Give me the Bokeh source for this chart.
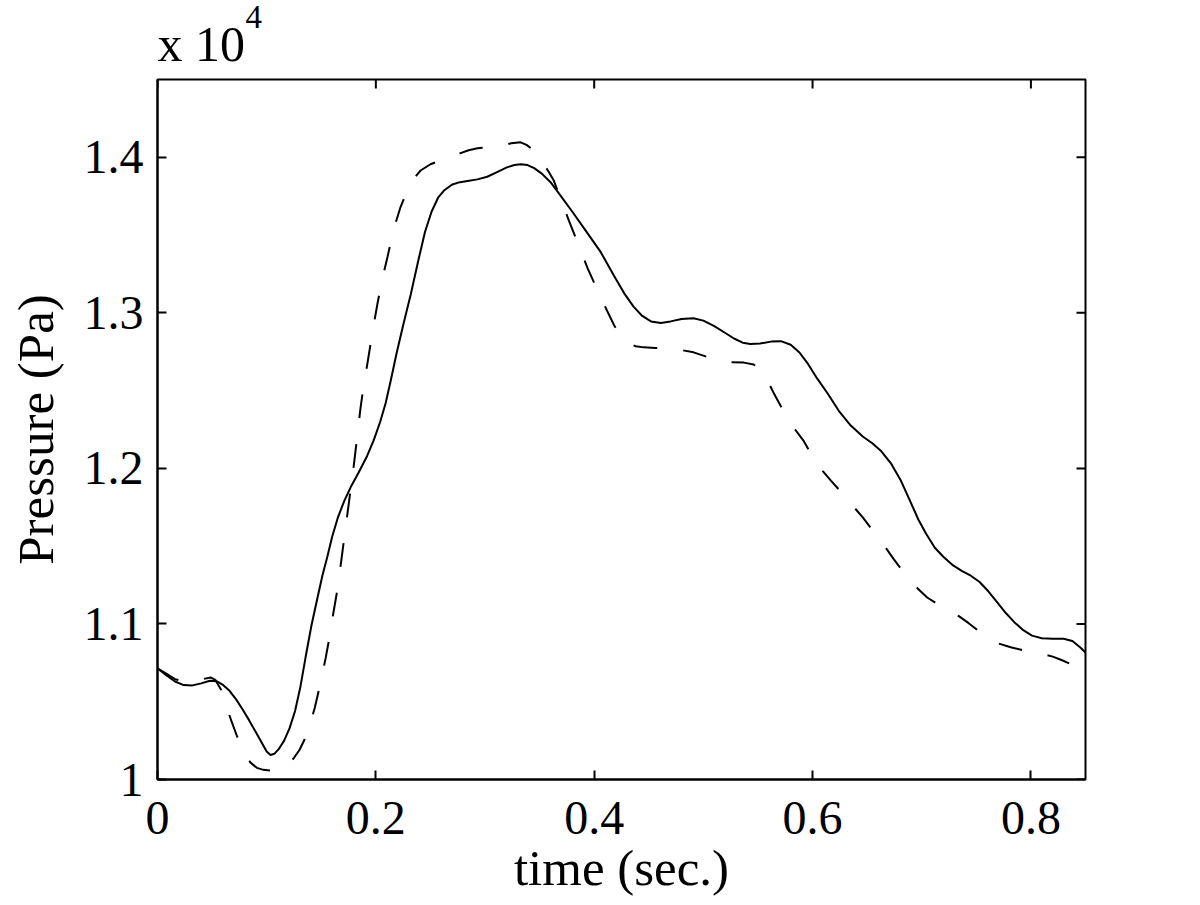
import math
from bokeh.plotting import figure
from bokeh.models import Range1d, FixedTicker, CustomJSTickFormatter, Title
from bokeh.embed import file_html
from bokeh.resources import INLINE

# time (sec.) and pressure (x 10^4 Pa)
t_solid = [0.000, 0.008, 0.016, 0.024, 0.032, 0.040, 0.048, 0.054, 0.060, 0.066,
           0.072, 0.078, 0.084, 0.090, 0.096, 0.100, 0.1035, 0.107, 0.111, 0.116,
           0.121, 0.126, 0.131, 0.136, 0.141, 0.1466, 0.151, 0.1555, 0.160, 0.165,
           0.171, 0.177, 0.184, 0.192, 0.198, 0.204, 0.209, 0.2135, 0.219, 0.225,
           0.232, 0.239, 0.245, 0.251, 0.257, 0.263, 0.270, 0.277, 0.284, 0.293,
           0.302, 0.311, 0.320, 0.327, 0.3326, 0.339, 0.345, 0.352, 0.360, 0.370,
           0.380, 0.393, 0.406, 0.418, 0.428, 0.436, 0.444, 0.452, 0.461, 0.470,
           0.480, 0.491, 0.500, 0.510, 0.519, 0.528, 0.536, 0.543, 0.552, 0.562,
           0.571, 0.580, 0.588, 0.596, 0.604, 0.614, 0.624, 0.635, 0.646, 0.655,
           0.663, 0.672, 0.681, 0.690, 0.697, 0.704, 0.712, 0.720, 0.728, 0.737,
           0.745, 0.753, 0.761, 0.769, 0.777, 0.785, 0.793, 0.801, 0.810, 0.820,
           0.830, 0.838, 0.845, 0.850]
p_solid = [1.0714, 1.0670, 1.0630, 1.0607, 1.0605, 1.0618, 1.0635, 1.0632, 1.0608, 1.0570,
           1.0515, 1.0450, 1.0380, 1.0305, 1.0230, 1.0180, 1.0158, 1.0165, 1.0195, 1.0250,
           1.0330, 1.0440, 1.0600, 1.0800, 1.0990, 1.1170, 1.1310, 1.1430, 1.1560, 1.1680,
           1.1790, 1.1880, 1.1970, 1.2080, 1.2180, 1.2300, 1.2420, 1.2560, 1.2740, 1.2920,
           1.3120, 1.3340, 1.3520, 1.3650, 1.3740, 1.3790, 1.3825, 1.3840, 1.3848, 1.3858,
           1.3875, 1.3905, 1.3935, 1.3950, 1.3955, 1.3950, 1.3930, 1.3895, 1.3840, 1.3745,
           1.3650, 1.3520, 1.3390, 1.3240, 1.3120, 1.3040, 1.2980, 1.2945, 1.2935, 1.2945,
           1.2960, 1.2965, 1.2950, 1.2915, 1.2875, 1.2835, 1.2808, 1.2800, 1.2803, 1.2815,
           1.2818, 1.2795, 1.2745, 1.2670, 1.2580, 1.2480, 1.2370, 1.2275, 1.2205, 1.2160,
           1.2110, 1.2030, 1.1920, 1.1780, 1.1670, 1.1580, 1.1490, 1.1430, 1.1380, 1.1340,
           1.1310, 1.1270, 1.1210, 1.1140, 1.1070, 1.1010, 1.0960, 1.0925, 1.0908, 1.0905,
           1.0905, 1.0890, 1.0850, 1.0817]

t_dashed = [0.000, 0.008, 0.016, 0.024, 0.032, 0.040, 0.0486, 0.053, 0.058, 0.063,
            0.068, 0.073, 0.079, 0.085, 0.091, 0.097, 0.1035, 0.110, 0.117, 0.1246,
            0.130, 0.1356, 0.140, 0.144, 0.149, 0.154, 0.158, 0.161, 0.165, 0.168,
            0.171, 0.174, 0.177, 0.180, 0.183, 0.186, 0.189, 0.1924, 0.197, 0.2015,
            0.206, 0.2107, 0.216, 0.2226, 0.229, 0.235, 0.241, 0.250, 0.259, 0.268,
            0.277, 0.285, 0.293, 0.305, 0.315, 0.324, 0.3326, 0.338, 0.3445, 0.352,
            0.358, 0.363, 0.370, 0.377, 0.385, 0.394, 0.403, 0.412, 0.419, 0.425,
            0.431, 0.438, 0.4455, 0.456, 0.467, 0.479, 0.491, 0.502, 0.513, 0.525,
            0.537, 0.546, 0.552, 0.557, 0.564, 0.571, 0.577, 0.584, 0.592, 0.601,
            0.609, 0.617, 0.624, 0.630, 0.638, 0.646, 0.653, 0.660, 0.667, 0.674,
            0.681, 0.687, 0.696, 0.705, 0.714, 0.724, 0.734, 0.743, 0.752, 0.760,
            0.770, 0.7815, 0.792, 0.8026, 0.812, 0.820, 0.828, 0.835]
p_dashed = [1.0714, 1.0680, 1.0645, 1.0632, 1.0632, 1.0643, 1.0656, 1.0640, 1.0580, 1.0470,
            1.0370, 1.0275, 1.0180, 1.0110, 1.0075, 1.0062, 1.0058, 1.0062, 1.0085, 1.0135,
            1.0190, 1.0270, 1.0360, 1.0460, 1.0610, 1.0780, 1.0930, 1.1067, 1.1230, 1.1390,
            1.1550, 1.1710, 1.1870, 1.2030, 1.2210, 1.2390, 1.2540, 1.2680, 1.2880, 1.3060,
            1.3220, 1.3360, 1.3530, 1.3680, 1.3790, 1.3865, 1.3915, 1.3955, 1.3980, 1.4000,
            1.4025, 1.4045, 1.4058, 1.4065, 1.4075, 1.4090, 1.4096, 1.4080, 1.4045, 1.3975,
            1.3910, 1.3850, 1.3720, 1.3590, 1.3447, 1.3286, 1.3145, 1.3010, 1.2910, 1.2840,
            1.2805, 1.2785, 1.2778, 1.2774, 1.2770, 1.2762, 1.2746, 1.2720, 1.2695, 1.2683,
            1.2680, 1.2668, 1.2640, 1.2590, 1.2490, 1.2400, 1.2330, 1.2250, 1.2175, 1.2064,
            1.1985, 1.1920, 1.1865, 1.1810, 1.1750, 1.1685, 1.1620, 1.1556, 1.1490, 1.1420,
            1.1355, 1.1300, 1.1230, 1.1170, 1.1130, 1.1095, 1.1050, 1.1005, 1.0955, 1.0910,
            1.0875, 1.0850, 1.0832, 1.0817, 1.0805, 1.0790, 1.0768, 1.0746]

x_ticks = [0, 0.2, 0.4, 0.6, 0.8]
y_ticks = [1.0, 1.1, 1.2, 1.3, 1.4]
x_lim = (0, 0.85)
y_lim = (1.0, 1.45)

FONT = "Liberation Serif"
TICK_FS = "48px"
LABEL_FS = "51px"

p = figure(width=1192, height=903,
           x_range=Range1d(*x_lim), y_range=Range1d(*y_lim),
           output_backend="svg", toolbar_location=None,
           min_border_left=157, min_border_right=107,
           min_border_top=79, min_border_bottom=124)
p.outline_line_color = "black"
p.outline_line_width = 2
p.xgrid.visible = False
p.ygrid.visible = False
p.background_fill_color = "white"
p.border_fill_color = "white"

fmt = CustomJSTickFormatter(code="return String(Math.round(tick*10)/10);")

for ax in p.axis:
    ax.axis_line_color = "black"
    ax.axis_line_width = 2
    ax.major_tick_line_color = "black"
    ax.major_tick_line_width = 2
    ax.major_tick_in = 9
    ax.major_tick_out = 0
    ax.minor_tick_line_color = None
    ax.major_label_text_font = FONT
    ax.major_label_text_font_size = TICK_FS
    ax.major_label_text_color = "black"
    ax.axis_label_text_font = FONT
    ax.axis_label_text_font_size = LABEL_FS
    ax.axis_label_text_font_style = "normal"
    ax.axis_label_text_color = "black"
    ax.formatter = fmt

p.xaxis.ticker = FixedTicker(ticks=x_ticks)
p.yaxis.ticker = FixedTicker(ticks=y_ticks)
p.xaxis.axis_label = "time (sec.)"
p.yaxis.axis_label = "Pressure (Pa)"
p.xaxis.major_label_standoff = 22
p.yaxis.major_label_standoff = 14
p.xaxis.axis_label_standoff = 3
p.yaxis.axis_label_standoff = 17

# inward ticks on the top and right edges of the box
p.ray(x=x_ticks, y=[y_lim[1]] * len(x_ticks), length=9, length_units="screen",
      angle=-math.pi / 2, line_color="black", line_width=2)
p.ray(x=[x_lim[1]] * len(y_ticks), y=y_ticks, length=9, length_units="screen",
      angle=math.pi, line_color="black", line_width=2)

p.line(t_solid, p_solid, line_color="black", line_width=2)
p.line(t_dashed, p_dashed, line_color="black", line_width=2, line_dash="24 26")

# "x 10^4" exponent note above the box
p.add_layout(Title(text="x 10", align="left", offset=0, standoff=16,
                   vertical_align="bottom", text_font=FONT, text_font_size="50px",
                   text_font_style="normal", text_color="black"), "above")
p.add_layout(Title(text="4", align="left", offset=88, standoff=-44,
                   vertical_align="bottom", text_font=FONT, text_font_size="33px",
                   text_font_style="normal", text_color="black"), "above")

open("out.html", "w").write(file_html(p, INLINE))
